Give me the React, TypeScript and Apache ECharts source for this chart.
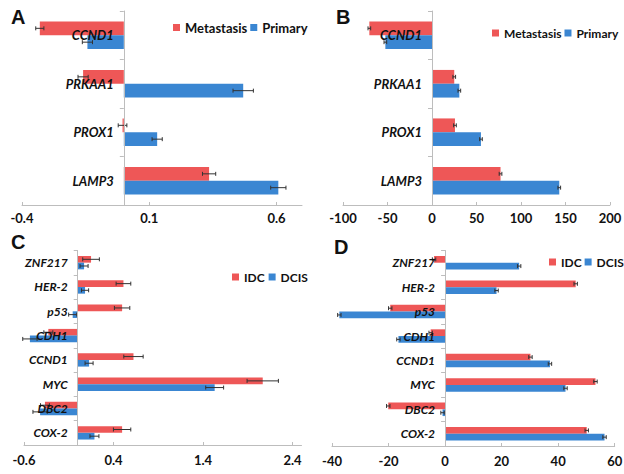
import React, { useEffect, useRef } from "react";
import * as echarts from "echarts";

const catsAB = ["CCND1", "PRKAA1", "PROX1", "LAMP3"];
const aMet = [-0.33, -0.16, -0.005, 0.335];
const aMetErr = [0.016, 0.02, 0.017, 0.026];
const aPri = [-0.143, 0.469, 0.131, 0.607];
const aPriErr = [0.02, 0.04, 0.02, 0.03];
const aTicks = { min: -0.4, max: 0.7, interval: 0.5 };

const bMet = [-70.4, 25, 25.8, 77];
const bMetErr = [1.5, 1.5, 1.5, 1.5];
const bPri = [-52.4, 30.7, 55, 143];
const bPriErr = [1.5, 1.5, 1.5, 1.5];
const bTicks = { min: -100, max: 200, interval: 50 };

const catsCD = ["ZNF217", "HER-2", "p53", "CDH1", "CCND1", "MYC", "DBC2", "COX-2"];
const cIdc = [0.149, 0.511, 0.496, -0.328, 0.623, 2.067, -0.366, 0.496];
const cIdcErr = [0.093, 0.082, 0.086, 0.05, 0.108, 0.175, 0.05, 0.097];
const cDcis = [0.071, 0.082, -0.056, -0.534, 0.127, 1.53, -0.42, 0.187];
const cDcisErr = [0.045, 0.04, 0.045, 0.08, 0.045, 0.1, 0.08, 0.05];
const cTicks = { min: -0.6, max: 2.5, interval: 1 };

const dIdc = [-3.9, 46.2, -19.4, -5.1, 30.2, 53.2, -20.1, 50.1];
const dIdcErr = [0.6, 0.6, 0.6, 0.6, 0.6, 0.6, 0.6, 0.6];
const dDcis = [26.2, 18.2, -37.4, -16.5, 37.1, 42.6, -0.9, 56.4];
const dDcisErr = [0.6, 0.6, 0.6, 0.6, 0.6, 0.6, 0.6, 0.6];
const dTicks = { min: -40, max: 60, interval: 20 };

const RED = "#EE5757";
const BLUE = "#3A86D2";
const FONT = "Lato";

export default function App() {
  const ref = useRef<HTMLDivElement>(null);
  useEffect(() => {
    if (!ref.current) return;
    const chart = echarts.init(ref.current, undefined, { renderer: "svg" });

    const grids = [
      { left: 22, width: 280, top: 11, height: 194 },
      { left: 343, width: 267, top: 11, height: 194 },
      { left: 24, width: 277.5, top: 250.5, height: 194.5 },
      { left: 332, width: 282.7, top: 250.5, height: 195.5 },
    ].map((g) => ({ ...g, containLabel: false, outerBoundsMode: "none" }));
    const ticks = [aTicks, bTicks, cTicks, dTicks];
    const cats = [catsAB, catsAB, catsCD, catsCD];
    const gapFrac = [0.43, 0.43, 0.45, 0.45];
    const labelMargins = [6, 6, 8, 8];

    const xAxis = ticks.map((t, i) => ({
      type: "value",
      gridIndex: i,
      min: t.min,
      max: t.max,
      interval: t.interval,
      splitLine: { show: false },
      axisLine: { show: true, onZero: false, lineStyle: { color: "#BDBDBD", width: 1 } },
      axisTick: { show: true, inside: true, length: 3, lineStyle: { color: "#BDBDBD" } },
      axisLabel: {
        showMaxLabel: Math.abs(((t.max - t.min) / t.interval) % 1) < 1e-9,
        margin: labelMargins[i],
        fontFamily: FONT,
        fontWeight: "bold",
        fontSize: 13,
        color: "#111",
        formatter: (v: number) => String(Math.round(v * 10) / 10),
      },
    }));

    const yAxis = cats.map((c, i) => ({
      type: "category",
      gridIndex: i,
      data: c,
      inverse: true,
      z: 10,
      axisLine: { show: true, onZero: true, lineStyle: { color: "#BDBDBD", width: 1 } },
      axisTick: { show: true, length: 4, lineStyle: { color: "#BDBDBD" } },
      axisLabel: { show: false },
    }));

    const panels = [
      { names: ["Metastasis", "Primary"], vals: [aMet, aPri], errs: [aMetErr, aPriErr] },
      { names: ["Metastasis", "Primary"], vals: [bMet, bPri], errs: [bMetErr, bPriErr] },
      { names: ["IDC", "DCIS"], vals: [cIdc, cDcis], errs: [cIdcErr, cDcisErr] },
      { names: ["IDC", "DCIS"], vals: [dIdc, dDcis], errs: [dIdcErr, dDcisErr] },
    ];

    const series: any[] = [];
    panels.forEach((p, i) => {
      p.names.forEach((n, k) => {
        series.push({
          type: "bar",
          name: n,
          xAxisIndex: i,
          yAxisIndex: i,
          data: p.vals[k],
          barGap: "0%",
          barCategoryGap: `${Math.round(gapFrac[i] * 100)}%`,
          itemStyle: { color: k === 0 ? RED : BLUE },
        });
      });
      p.names.forEach((n, k) => {
        const sign = k === 0 ? -1 : 1;
        const off = (1 - gapFrac[i]) / 4;
        series.push({
          type: "custom",
          name: "err" + i + k,
          xAxisIndex: i,
          yAxisIndex: i,
          z: 5,
          data: p.vals[k].map((v, j) => [v, j, p.errs[k][j]]),
          encode: { x: 0, y: 1 },
          renderItem: (params: any, api: any) => {
            const v = api.value(0);
            const idx = api.value(1);
            const e = api.value(2);
            const band = api.size([0, 1])[1];
            const p1 = api.coord([v - e, idx]);
            const p2 = api.coord([v + e, idx]);
            const y = p1[1] + sign * off * band;
            const st = { stroke: "#333", lineWidth: 1 };
            return {
              type: "group",
              children: [
                { type: "line", shape: { x1: p1[0], y1: y, x2: p2[0], y2: y }, style: st },
                { type: "line", shape: { x1: p1[0], y1: y - 2, x2: p1[0], y2: y + 2 }, style: st },
                { type: "line", shape: { x1: p2[0], y1: y - 2, x2: p2[0], y2: y + 2 }, style: st },
              ],
            };
          },
        });
      });
      // category labels drawn at the zero line of the value axis
      const catList = cats[i];
      series.push({
        type: "custom",
        name: "cat" + i,
        xAxisIndex: i,
        yAxisIndex: i,
        z: 8,
        silent: true,
        data: catList.map((c, j) => [0, j]),
        encode: { x: 0, y: 1 },
        renderItem: (params: any, api: any) => {
          const idx = api.value(1);
          const pt = api.coord([0, idx]);
          return {
            type: "text",
            x: pt[0] - 10,
            y: pt[1],
            style: {
              text: catList[idx],
              align: "right",
              verticalAlign: "middle",
              textAlign: "right",
              textVerticalAlign: "middle",
              fontFamily: FONT,
              fontWeight: "bold",
              fontStyle: "italic",
              fontSize: i < 2 ? 13 : 12,
              fill: "#111",
            },
          };
        },
      });
    });

    const legendBase = {
      itemWidth: 7,
      itemHeight: 7,
      itemGap: 3,
      icon: "rect",
      width: 400,
      orient: "horizontal",
      padding: 0,
      textStyle: { fontFamily: FONT, fontWeight: "bold", color: "#111" },
    };
    const legend = [
      { ...legendBase, data: ["Metastasis", "Primary"], left: 173, top: 21, textStyle: { ...legendBase.textStyle, fontSize: 13 } },
      { ...legendBase, data: ["Metastasis", "Primary"], left: 492, top: 27, textStyle: { ...legendBase.textStyle, fontSize: 12 } },
      { ...legendBase, data: ["IDC", "DCIS"], left: 232, top: 271, itemGap: 4, textStyle: { ...legendBase.textStyle, fontSize: 12 } },
      { ...legendBase, data: ["IDC", "DCIS"], left: 549, top: 256, textStyle: { ...legendBase.textStyle, fontSize: 12 } },
    ];

    const letter = (t: string, x: number, y: number) => ({
      type: "text",
      left: x,
      top: y,
      style: { text: t, fontFamily: "Liberation Sans", fontWeight: "bold", fontSize: 20, fill: "#111" },
    });

    chart.setOption({
      animation: false,
      backgroundColor: "#fff",
      grid: grids,
      xAxis,
      yAxis,
      legend,
      series,
      graphic: [letter("A", 11, 7), letter("B", 336, 7), letter("C", 11, 232), letter("D", 334, 237)],
    });
    return () => chart.dispose();
  }, []);
  return <div ref={ref} style={{ position: "fixed", left: 0, top: 0, width: 624, height: 474 }} />;
}
